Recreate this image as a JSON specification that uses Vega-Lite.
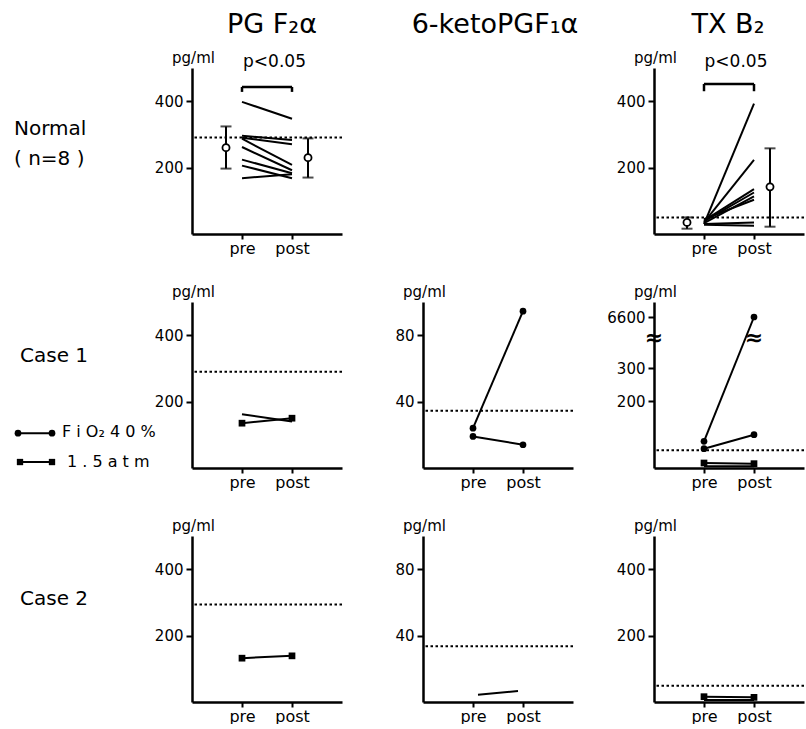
{
"$schema":"https://vega.github.io/schema/vega-lite/v6.json",
"background":"white",
"padding":{"left":14,"top":11,"right":0,"bottom":0},
"autosize":{"type":"pad"},
"config":{
 "view":{"stroke":null},
 "font":"DejaVu Sans",
 "text":{"font":"DejaVu Sans","color":"black"},
 "axis":{"domainColor":"black","domainWidth":2.5,"tickColor":"black","tickWidth":2,"labelColor":"black","labelFont":"DejaVu Sans","labelFontSize":15,"grid":false,"titleFont":"DejaVu Sans","titleFontSize":15,"titleFontWeight":"normal","titleColor":"black","labelFlush":false,"labelOverlap":false},
 "axisX":{"tickSize":5,"labelBaseline":"alphabetic","labelPadding":14,"labelFontSize":16},
 "axisY":{"tickSize":6,"labelPadding":3,"titleAngle":0,"titleAlign":"center","titleBaseline":"alphabetic","titleX":1,"titleY":-6}
},
"datasets":{
 "lines":[
  {"panel":"N_PG","id":"a","x":1,"v":398},{"panel":"N_PG","id":"a","x":2,"v":347},
  {"panel":"N_PG","id":"b","x":1,"v":296},{"panel":"N_PG","id":"b","x":2,"v":283},
  {"panel":"N_PG","id":"c","x":1,"v":290},{"panel":"N_PG","id":"c","x":2,"v":270},
  {"panel":"N_PG","id":"d","x":1,"v":287},{"panel":"N_PG","id":"d","x":2,"v":208},
  {"panel":"N_PG","id":"e","x":1,"v":262},{"panel":"N_PG","id":"e","x":2,"v":192},
  {"panel":"N_PG","id":"f","x":1,"v":224},{"panel":"N_PG","id":"f","x":2,"v":183},
  {"panel":"N_PG","id":"g","x":1,"v":206},{"panel":"N_PG","id":"g","x":2,"v":168},
  {"panel":"N_PG","id":"h","x":1,"v":168},{"panel":"N_PG","id":"h","x":2,"v":180},
  {"panel":"N_TX","id":"a","x":1,"v":30},{"panel":"N_TX","id":"a","x":2,"v":393},
  {"panel":"N_TX","id":"b","x":1,"v":35},{"panel":"N_TX","id":"b","x":2,"v":223},
  {"panel":"N_TX","id":"c","x":1,"v":40},{"panel":"N_TX","id":"c","x":2,"v":135},
  {"panel":"N_TX","id":"d","x":1,"v":38},{"panel":"N_TX","id":"d","x":2,"v":125},
  {"panel":"N_TX","id":"e","x":1,"v":33},{"panel":"N_TX","id":"e","x":2,"v":113},
  {"panel":"N_TX","id":"f","x":1,"v":45},{"panel":"N_TX","id":"f","x":2,"v":103},
  {"panel":"N_TX","id":"g","x":1,"v":30},{"panel":"N_TX","id":"g","x":2,"v":35},
  {"panel":"N_TX","id":"h","x":1,"v":28},{"panel":"N_TX","id":"h","x":2,"v":25},
  {"panel":"C1_PG","id":"f1","x":1,"v":162},{"panel":"C1_PG","id":"f1","x":2,"v":140},
  {"panel":"C1_PG","id":"s1","x":1,"v":135},{"panel":"C1_PG","id":"s1","x":2,"v":150},
  {"panel":"C1_KE","id":"f1","x":1,"v":24},{"panel":"C1_KE","id":"f1","x":2,"v":94.5},
  {"panel":"C1_KE","id":"f2","x":1,"v":19},{"panel":"C1_KE","id":"f2","x":2,"v":14},
  {"panel":"C1_TX","id":"f1","x":1,"v":80},{"panel":"C1_TX","id":"f1","x":2,"v":6600},
  {"panel":"C1_TX","id":"f2","x":1,"v":58},{"panel":"C1_TX","id":"f2","x":2,"v":100},
  {"panel":"C1_TX","id":"s1","x":1,"v":15},{"panel":"C1_TX","id":"s1","x":2,"v":13},
  {"panel":"C1_TX","id":"s2","x":1,"v":5},{"panel":"C1_TX","id":"s2","x":2,"v":5},
  {"panel":"C2_PG","id":"s1","x":1,"v":132},{"panel":"C2_PG","id":"s1","x":2,"v":139},
  {"panel":"C2_KE","id":"k1","x":1.1,"v":4.4},{"panel":"C2_KE","id":"k1","x":1.9,"v":6.6},
  {"panel":"C2_TX","id":"s1","x":1,"v":16},{"panel":"C2_TX","id":"s1","x":2,"v":14},
  {"panel":"C2_TX","id":"s2","x":1,"v":6},{"panel":"C2_TX","id":"s2","x":2,"v":6}
 ],
 "points":[
  {"panel":"C1_PG","cond":"1.5 atm","x":1,"v":135},{"panel":"C1_PG","cond":"1.5 atm","x":2,"v":150},
  {"panel":"C1_KE","cond":"FiO₂ 40%","x":1,"v":24},{"panel":"C1_KE","cond":"FiO₂ 40%","x":1,"v":19},
  {"panel":"C1_KE","cond":"FiO₂ 40%","x":2,"v":94.5},{"panel":"C1_KE","cond":"FiO₂ 40%","x":2,"v":14},
  {"panel":"C1_TX","cond":"FiO₂ 40%","x":1,"v":80},{"panel":"C1_TX","cond":"FiO₂ 40%","x":1,"v":58},
  {"panel":"C1_TX","cond":"FiO₂ 40%","x":2,"v":6600},{"panel":"C1_TX","cond":"FiO₂ 40%","x":2,"v":100},
  {"panel":"C1_TX","cond":"1.5 atm","x":1,"v":15},{"panel":"C1_TX","cond":"1.5 atm","x":2,"v":13},
  {"panel":"C2_PG","cond":"1.5 atm","x":1,"v":132},{"panel":"C2_PG","cond":"1.5 atm","x":2,"v":139},
  {"panel":"C2_TX","cond":"1.5 atm","x":1,"v":16},{"panel":"C2_TX","cond":"1.5 atm","x":2,"v":14}
 ],
 "means":[
  {"panel":"N_PG","x":0.68,"m":260,"lo":197,"hi":324},{"panel":"N_PG","x":2.32,"m":230,"lo":170,"hi":288},
  {"panel":"N_TX","x":0.66,"m":35,"lo":16,"hi":50},{"panel":"N_TX","x":2.32,"m":142,"lo":22,"hi":258}
 ],
 "refs":[
  {"panel":"N_PG","v":291},{"panel":"N_TX","v":50},
  {"panel":"C1_PG","v":290},{"panel":"C1_KE","v":34.5},{"panel":"C1_TX","v":53},
  {"panel":"C2_PG","v":294},{"panel":"C2_KE","v":33.6},{"panel":"C2_TX","v":49}
 ]
},
"columns":3,
"spacing":{"row":68,"column":81},
"bounds":"flush",
"concat":[
 {"width":150,"height":166,"layer":[
  {"data":{"name":"lines"},"transform":[{"filter":"datum.panel=='N_PG'"}],"mark":{"type":"line","color":"black","strokeWidth":2},
   "encoding":{"x":{"field":"x","type":"quantitative","scale":{"domain":[0,3],"nice":false,"zero":false},"axis":{"values":[1,2],"labelExpr":"datum.value==1?'pre':'post'","title":null}},
    "y":{"field":"v","type":"quantitative","scale":{"domain":[0,500],"nice":false},"axis":{"values":[200,400],"title":"pg/ml"}},"detail":{"field":"id"}}},
  {"data":{"name":"refs"},"transform":[{"filter":"datum.panel=='N_PG'"}],"mark":{"type":"rule","color":"black","strokeWidth":2,"strokeDash":[2.5,2.5]},"encoding":{"y":{"field":"v","type":"quantitative"}}},
  {"data":{"name":"means"},"transform":[{"filter":"datum.panel=='N_PG'"}],"mark":{"type":"rule","color":"black","strokeWidth":2},"encoding":{"x":{"field":"x","type":"quantitative"},"y":{"field":"lo","type":"quantitative"},"y2":{"field":"hi"}}},
  {"data":{"name":"means"},"transform":[{"filter":"datum.panel=='N_PG'"}],"mark":{"type":"tick","orient":"horizontal","size":11,"thickness":2,"color":"black"},"encoding":{"x":{"field":"x","type":"quantitative"},"y":{"field":"lo","type":"quantitative"}}},
  {"data":{"name":"means"},"transform":[{"filter":"datum.panel=='N_PG'"}],"mark":{"type":"tick","orient":"horizontal","size":11,"thickness":2,"color":"black"},"encoding":{"x":{"field":"x","type":"quantitative"},"y":{"field":"hi","type":"quantitative"}}},
  {"data":{"name":"means"},"transform":[{"filter":"datum.panel=='N_PG'"}],"mark":{"type":"point","shape":"circle","filled":true,"fill":"white","stroke":"black","strokeWidth":1.8,"size":50,"opacity":1},"encoding":{"x":{"field":"x","type":"quantitative"},"y":{"field":"m","type":"quantitative"}}},
  {"data":{"values":[{}]},"mark":{"type":"rule","color":"black","strokeWidth":2.5},"encoding":{"x":{"datum":1,"type":"quantitative"},"x2":{"datum":2},"y":{"datum":443,"type":"quantitative"}}},
  {"data":{"values":[{}]},"mark":{"type":"rule","color":"black","strokeWidth":2.5},"encoding":{"x":{"datum":1,"type":"quantitative"},"y":{"datum":428,"type":"quantitative"},"y2":{"datum":443}}},
  {"data":{"values":[{}]},"mark":{"type":"rule","color":"black","strokeWidth":2.5},"encoding":{"x":{"datum":2,"type":"quantitative"},"y":{"datum":428,"type":"quantitative"},"y2":{"datum":443}}},
  {"data":{"values":[{}]},"mark":{"type":"text","text":"p<0.05","fontSize":17,"align":"center","baseline":"alphabetic"},"encoding":{"x":{"datum":1.65,"type":"quantitative"},"y":{"datum":503,"type":"quantitative"}}},
  {"data":{"values":[{}]},"mark":{"type":"text","text":"PG F₂α","fontSize":27,"align":"center","baseline":"alphabetic"},"encoding":{"x":{"datum":1.6,"type":"quantitative"},"y":{"datum":604,"type":"quantitative"}}},
  {"data":{"values":[{}]},"mark":{"type":"text","text":["Normal","( n=8 )"],"fontSize":20,"align":"left","baseline":"alphabetic","lineHeight":30},"encoding":{"x":{"datum":-3.56,"type":"quantitative"},"y":{"datum":297,"type":"quantitative"}}}
 ]},
 {"width":150,"height":166,"data":{"values":[{}]},"mark":{"type":"text","text":"6-ketoPGF₁α","fontSize":27,"align":"center","baseline":"alphabetic"},
  "encoding":{"x":{"datum":1.44,"type":"quantitative","scale":{"domain":[0,3],"nice":false,"zero":false},"axis":null},"y":{"datum":604,"type":"quantitative","scale":{"domain":[0,500],"nice":false},"axis":null}}},
 {"width":150,"height":166,"layer":[
  {"data":{"name":"lines"},"transform":[{"filter":"datum.panel=='N_TX'"}],"mark":{"type":"line","color":"black","strokeWidth":2},
   "encoding":{"x":{"field":"x","type":"quantitative","scale":{"domain":[0,3],"nice":false,"zero":false},"axis":{"values":[1,2],"labelExpr":"datum.value==1?'pre':'post'","title":null}},
    "y":{"field":"v","type":"quantitative","scale":{"domain":[0,500],"nice":false},"axis":{"values":[200,400],"title":"pg/ml"}},"detail":{"field":"id"}}},
  {"data":{"name":"refs"},"transform":[{"filter":"datum.panel=='N_TX'"}],"mark":{"type":"rule","color":"black","strokeWidth":2,"strokeDash":[2.5,2.5]},"encoding":{"y":{"field":"v","type":"quantitative"}}},
  {"data":{"name":"means"},"transform":[{"filter":"datum.panel=='N_TX'"}],"mark":{"type":"rule","color":"black","strokeWidth":2},"encoding":{"x":{"field":"x","type":"quantitative"},"y":{"field":"lo","type":"quantitative"},"y2":{"field":"hi"}}},
  {"data":{"name":"means"},"transform":[{"filter":"datum.panel=='N_TX'"}],"mark":{"type":"tick","orient":"horizontal","size":11,"thickness":2,"color":"black"},"encoding":{"x":{"field":"x","type":"quantitative"},"y":{"field":"lo","type":"quantitative"}}},
  {"data":{"name":"means"},"transform":[{"filter":"datum.panel=='N_TX'"}],"mark":{"type":"tick","orient":"horizontal","size":11,"thickness":2,"color":"black"},"encoding":{"x":{"field":"x","type":"quantitative"},"y":{"field":"hi","type":"quantitative"}}},
  {"data":{"name":"means"},"transform":[{"filter":"datum.panel=='N_TX'"}],"mark":{"type":"point","shape":"circle","filled":true,"fill":"white","stroke":"black","strokeWidth":1.8,"size":50,"opacity":1},"encoding":{"x":{"field":"x","type":"quantitative"},"y":{"field":"m","type":"quantitative"}}},
  {"data":{"values":[{}]},"mark":{"type":"rule","color":"black","strokeWidth":2.5},"encoding":{"x":{"datum":1,"type":"quantitative"},"x2":{"datum":2},"y":{"datum":452,"type":"quantitative"}}},
  {"data":{"values":[{}]},"mark":{"type":"rule","color":"black","strokeWidth":2.5},"encoding":{"x":{"datum":1,"type":"quantitative"},"y":{"datum":430,"type":"quantitative"},"y2":{"datum":452}}},
  {"data":{"values":[{}]},"mark":{"type":"rule","color":"black","strokeWidth":2.5},"encoding":{"x":{"datum":2,"type":"quantitative"},"y":{"datum":430,"type":"quantitative"},"y2":{"datum":452}}},
  {"data":{"values":[{}]},"mark":{"type":"text","text":"p<0.05","fontSize":17,"align":"center","baseline":"alphabetic"},"encoding":{"x":{"datum":1.64,"type":"quantitative"},"y":{"datum":503,"type":"quantitative"}}},
  {"data":{"values":[{}]},"mark":{"type":"text","text":"TX B₂","fontSize":27,"align":"center","baseline":"alphabetic"},"encoding":{"x":{"datum":1.48,"type":"quantitative"},"y":{"datum":604,"type":"quantitative"}}}
 ]},
 {"width":150,"height":166,"layer":[
  {"data":{"name":"lines"},"transform":[{"filter":"datum.panel=='C1_PG'"}],"mark":{"type":"line","color":"black","strokeWidth":2},
   "encoding":{"x":{"field":"x","type":"quantitative","scale":{"domain":[0,3],"nice":false,"zero":false},"axis":{"values":[1,2],"labelExpr":"datum.value==1?'pre':'post'","title":null}},
    "y":{"field":"v","type":"quantitative","scale":{"domain":[0,500],"nice":false},"axis":{"values":[200,400],"title":"pg/ml"}},"detail":{"field":"id"}}},
  {"data":{"name":"refs"},"transform":[{"filter":"datum.panel=='C1_PG'"}],"mark":{"type":"rule","color":"black","strokeWidth":2,"strokeDash":[2.5,2.5]},"encoding":{"y":{"field":"v","type":"quantitative"}}},
  {"data":{"name":"points"},"transform":[{"filter":"datum.panel=='C1_PG'"}],"mark":{"type":"point","filled":true,"color":"black","size":45,"opacity":1},
   "encoding":{"x":{"field":"x","type":"quantitative"},"y":{"field":"v","type":"quantitative"},"shape":{"field":"cond","type":"nominal","scale":{"domain":["FiO₂ 40%","1.5 atm"],"range":["circle","square"]},"legend":null}}},
  {"data":{"values":[{}]},"mark":{"type":"text","text":"Case 1","fontSize":20,"align":"left","baseline":"alphabetic"},"encoding":{"x":{"datum":-3.44,"type":"quantitative"},"y":{"datum":319,"type":"quantitative"}}},
  {"data":{"values":[{}]},"mark":{"type":"rule","color":"black","strokeWidth":2},"encoding":{"x":{"datum":-3.48,"type":"quantitative"},"x2":{"datum":-2.8},"y":{"datum":105,"type":"quantitative"}}},
  {"data":{"values":[{}]},"mark":{"type":"point","shape":"circle","filled":true,"color":"black","size":45,"opacity":1},"encoding":{"x":{"datum":-3.48,"type":"quantitative"},"y":{"datum":105,"type":"quantitative"}}},
  {"data":{"values":[{}]},"mark":{"type":"point","shape":"circle","filled":true,"color":"black","size":45,"opacity":1},"encoding":{"x":{"datum":-2.8,"type":"quantitative"},"y":{"datum":105,"type":"quantitative"}}},
  {"data":{"values":[{}]},"mark":{"type":"text","text":"F i O₂  4 0 %","fontSize":16,"align":"left","baseline":"alphabetic"},"encoding":{"x":{"datum":-2.6,"type":"quantitative"},"y":{"datum":93,"type":"quantitative"}}},
  {"data":{"values":[{}]},"mark":{"type":"rule","color":"black","strokeWidth":2},"encoding":{"x":{"datum":-3.44,"type":"quantitative"},"x2":{"datum":-2.8},"y":{"datum":18,"type":"quantitative"}}},
  {"data":{"values":[{}]},"mark":{"type":"point","shape":"square","filled":true,"color":"black","size":40,"opacity":1},"encoding":{"x":{"datum":-3.44,"type":"quantitative"},"y":{"datum":18,"type":"quantitative"}}},
  {"data":{"values":[{}]},"mark":{"type":"point","shape":"square","filled":true,"color":"black","size":40,"opacity":1},"encoding":{"x":{"datum":-2.8,"type":"quantitative"},"y":{"datum":18,"type":"quantitative"}}},
  {"data":{"values":[{}]},"mark":{"type":"text","text":"1 . 5 a t m","fontSize":16,"align":"left","baseline":"alphabetic"},"encoding":{"x":{"datum":-2.5,"type":"quantitative"},"y":{"datum":3,"type":"quantitative"}}}
 ]},
 {"width":150,"height":166,"layer":[
  {"data":{"name":"lines"},"transform":[{"filter":"datum.panel=='C1_KE'"}],"mark":{"type":"line","color":"black","strokeWidth":2},
   "encoding":{"x":{"field":"x","type":"quantitative","scale":{"domain":[0,3],"nice":false,"zero":false},"axis":{"values":[1,2],"labelExpr":"datum.value==1?'pre':'post'","title":null}},
    "y":{"field":"v","type":"quantitative","scale":{"domain":[0,100],"nice":false},"axis":{"values":[40,80],"title":"pg/ml"}},"detail":{"field":"id"}}},
  {"data":{"name":"refs"},"transform":[{"filter":"datum.panel=='C1_KE'"}],"mark":{"type":"rule","color":"black","strokeWidth":2,"strokeDash":[2.5,2.5]},"encoding":{"y":{"field":"v","type":"quantitative"}}},
  {"data":{"name":"points"},"transform":[{"filter":"datum.panel=='C1_KE'"}],"mark":{"type":"point","filled":true,"color":"black","size":45,"opacity":1},
   "encoding":{"x":{"field":"x","type":"quantitative"},"y":{"field":"v","type":"quantitative"},"shape":{"field":"cond","type":"nominal","scale":{"domain":["FiO₂ 40%","1.5 atm"],"range":["circle","square"]},"legend":null}}}
 ]},
 {"width":150,"height":166,"layer":[
  {"data":{"name":"lines"},"transform":[{"filter":"datum.panel=='C1_TX'"}],"mark":{"type":"line","color":"black","strokeWidth":2},
   "encoding":{"x":{"field":"x","type":"quantitative","scale":{"domain":[0,3],"nice":false,"zero":false},"axis":{"values":[1,2],"labelExpr":"datum.value==1?'pre':'post'","title":null}},
    "y":{"field":"v","type":"quantitative","scale":{"domain":[0,390,6400,6800],"range":[166,36,30,0],"nice":false,"zero":false},"axis":{"values":[200,300,6600],"format":"d","title":"pg/ml"}},"detail":{"field":"id"}}},
  {"data":{"name":"refs"},"transform":[{"filter":"datum.panel=='C1_TX'"}],"mark":{"type":"rule","color":"black","strokeWidth":2,"strokeDash":[2.5,2.5]},"encoding":{"y":{"field":"v","type":"quantitative"}}},
  {"data":{"name":"points"},"transform":[{"filter":"datum.panel=='C1_TX'"}],"mark":{"type":"point","filled":true,"color":"black","size":45,"opacity":1},
   "encoding":{"x":{"field":"x","type":"quantitative"},"y":{"field":"v","type":"quantitative"},"shape":{"field":"cond","type":"nominal","scale":{"domain":["FiO₂ 40%","1.5 atm"],"range":["circle","square"]},"legend":null}}},
  {"data":{"values":[{}]},"mark":{"type":"text","text":"≈","fontSize":22,"fontWeight":"bold","align":"center","baseline":"middle"},"encoding":{"x":{"datum":0,"type":"quantitative"},"y":{"datum":390,"type":"quantitative"}}},
  {"data":{"values":[{}]},"mark":{"type":"text","text":"≈","fontSize":22,"fontWeight":"bold","align":"center","baseline":"middle"},"encoding":{"x":{"datum":2,"type":"quantitative"},"y":{"datum":390,"type":"quantitative"}}}
 ]},
 {"width":150,"height":166,"layer":[
  {"data":{"name":"lines"},"transform":[{"filter":"datum.panel=='C2_PG'"}],"mark":{"type":"line","color":"black","strokeWidth":2},
   "encoding":{"x":{"field":"x","type":"quantitative","scale":{"domain":[0,3],"nice":false,"zero":false},"axis":{"values":[1,2],"labelExpr":"datum.value==1?'pre':'post'","title":null}},
    "y":{"field":"v","type":"quantitative","scale":{"domain":[0,500],"nice":false},"axis":{"values":[200,400],"title":"pg/ml"}},"detail":{"field":"id"}}},
  {"data":{"name":"refs"},"transform":[{"filter":"datum.panel=='C2_PG'"}],"mark":{"type":"rule","color":"black","strokeWidth":2,"strokeDash":[2.5,2.5]},"encoding":{"y":{"field":"v","type":"quantitative"}}},
  {"data":{"name":"points"},"transform":[{"filter":"datum.panel=='C2_PG'"}],"mark":{"type":"point","filled":true,"color":"black","size":45,"opacity":1},
   "encoding":{"x":{"field":"x","type":"quantitative"},"y":{"field":"v","type":"quantitative"},"shape":{"field":"cond","type":"nominal","scale":{"domain":["FiO₂ 40%","1.5 atm"],"range":["circle","square"]},"legend":null}}},
  {"data":{"values":[{}]},"mark":{"type":"text","text":"Case 2","fontSize":20,"align":"left","baseline":"alphabetic"},"encoding":{"x":{"datum":-3.44,"type":"quantitative"},"y":{"datum":292,"type":"quantitative"}}}
 ]},
 {"width":150,"height":166,"layer":[
  {"data":{"name":"lines"},"transform":[{"filter":"datum.panel=='C2_KE'"}],"mark":{"type":"line","color":"black","strokeWidth":2},
   "encoding":{"x":{"field":"x","type":"quantitative","scale":{"domain":[0,3],"nice":false,"zero":false},"axis":{"values":[1,2],"labelExpr":"datum.value==1?'pre':'post'","title":null}},
    "y":{"field":"v","type":"quantitative","scale":{"domain":[0,100],"nice":false},"axis":{"values":[40,80],"title":"pg/ml"}},"detail":{"field":"id"}}},
  {"data":{"name":"refs"},"transform":[{"filter":"datum.panel=='C2_KE'"}],"mark":{"type":"rule","color":"black","strokeWidth":2,"strokeDash":[2.5,2.5]},"encoding":{"y":{"field":"v","type":"quantitative"}}}
 ]},
 {"width":150,"height":166,"layer":[
  {"data":{"name":"lines"},"transform":[{"filter":"datum.panel=='C2_TX'"}],"mark":{"type":"line","color":"black","strokeWidth":2},
   "encoding":{"x":{"field":"x","type":"quantitative","scale":{"domain":[0,3],"nice":false,"zero":false},"axis":{"values":[1,2],"labelExpr":"datum.value==1?'pre':'post'","title":null}},
    "y":{"field":"v","type":"quantitative","scale":{"domain":[0,500],"nice":false},"axis":{"values":[200,400],"title":"pg/ml"}},"detail":{"field":"id"}}},
  {"data":{"name":"refs"},"transform":[{"filter":"datum.panel=='C2_TX'"}],"mark":{"type":"rule","color":"black","strokeWidth":2,"strokeDash":[2.5,2.5]},"encoding":{"y":{"field":"v","type":"quantitative"}}},
  {"data":{"name":"points"},"transform":[{"filter":"datum.panel=='C2_TX'"}],"mark":{"type":"point","filled":true,"color":"black","size":45,"opacity":1},
   "encoding":{"x":{"field":"x","type":"quantitative"},"y":{"field":"v","type":"quantitative"},"shape":{"field":"cond","type":"nominal","scale":{"domain":["FiO₂ 40%","1.5 atm"],"range":["circle","square"]},"legend":null}}}
 ]}
]
}
